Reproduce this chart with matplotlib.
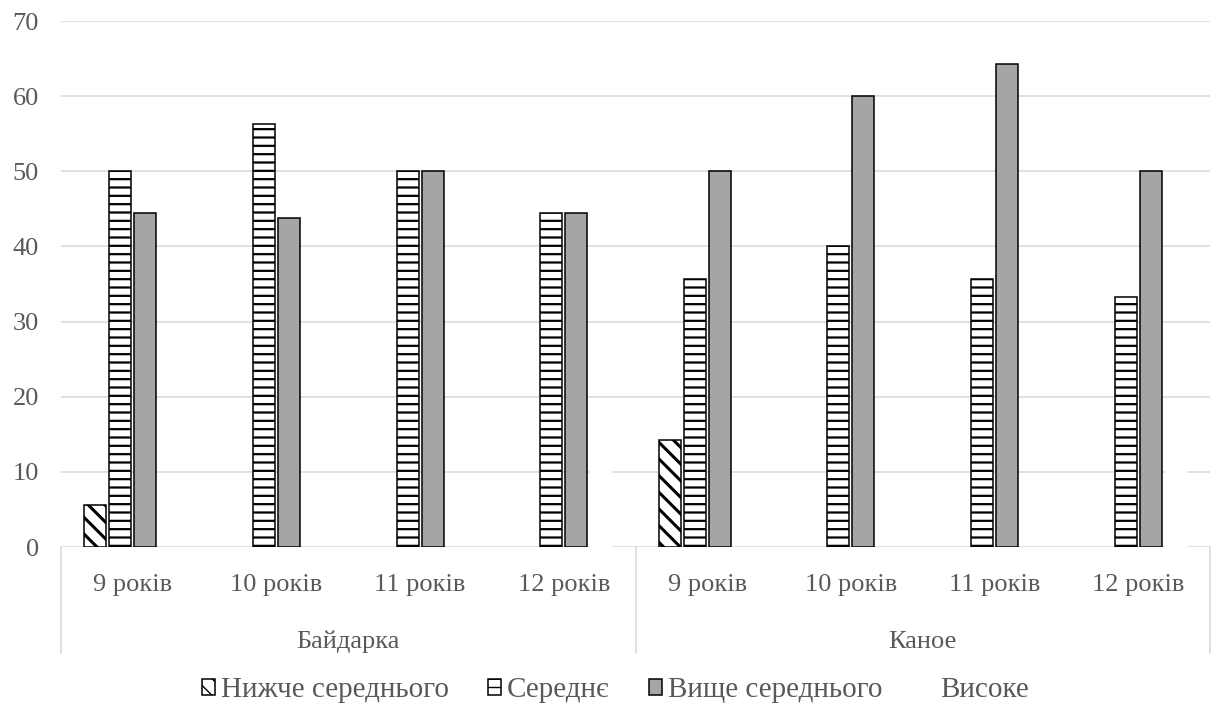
import matplotlib
matplotlib.use("Agg")
import matplotlib.pyplot as plt
import matplotlib.transforms as mtransforms
import numpy as np

# data
years = ["9 років", "10 років", "11 років", "12 років"] * 2
groups = ["Байдарка", "Каное"]
series_names = ["Нижче середнього", "Середнє", "Вище середнього", "Високе"]
below_avg = [5.6, 0, 0, 0, 14.3, 0, 0, 0]
average = [50, 56.25, 50, 44.4, 35.7, 40, 35.7, 33.3]
above_avg = [44.4, 43.75, 50, 44.4, 50, 60, 64.3, 50]
high = [0, 0, 0, 11.1, 0, 0, 0, 16.7]

plt.rcParams['font.family'] = ['Liberation Serif', 'DejaVu Serif']
text_color = "#595959"
grid_color = "#d9d9d9"
fsize = 19
leg_size = 21

fig = plt.figure(figsize=(12.13, 7.05), dpi=100)
ax = fig.add_axes([61 / 1213, 1 - 547 / 705, (1210 - 61) / 1213, (547 - 21) / 705])

x = np.arange(len(years))
slot = 0.174
width = 0.153

styles = [
    dict(facecolor="white", edgecolor="black", hatch="\\\\", hlw=2.2),
    dict(facecolor="white", edgecolor="black", hatch="--", hlw=1.6),
    dict(facecolor="#a5a5a5", edgecolor="black", hatch=None, hlw=1.0),
    dict(facecolor="white", edgecolor="none", hatch=None, hlw=1.0),
]
values = [below_avg, average, above_avg, high]

for i, (vals, st, name) in enumerate(zip(values, styles, series_names)):
    plt.rcParams['hatch.linewidth'] = st["hlw"]
    bars = ax.bar(x + (i - 1.5) * slot, vals, width, facecolor=st["facecolor"],
                  edgecolor=st["edgecolor"], hatch=st["hatch"], linewidth=1.1,
                  label=name, zorder=2)
    for b, v in zip(bars, vals):
        if hasattr(b, "set_hatch_linewidth"):
            b.set_hatch_linewidth(st["hlw"])
        if v == 0:
            b.set_visible(False)

ax.set_xlim(-0.5, 7.5)
ax.set_ylim(0, 70)
ax.set_yticks(range(0, 71, 10))
ax.yaxis.grid(True, color=grid_color, linewidth=1.1, zorder=0)
ax.set_axisbelow(True)
for s in ax.spines.values():
    s.set_visible(False)
ax.tick_params(axis="y", length=0, pad=16, labelsize=fsize, labelcolor=text_color)
ax.set_xticks([])

# category axis: year labels, group labels and separators
trans = mtransforms.blended_transform_factory(ax.transData, ax.transAxes)
for xi, lab in zip(x, years):
    ax.text(xi, -0.072, lab, transform=trans, ha="center", va="center",
            fontsize=fsize, color=text_color)
for gi, g in enumerate(groups):
    ax.text(gi * 4 + 1.5, -0.181, g, transform=trans, ha="center", va="center",
            fontsize=fsize, color=text_color)
for sx in [-0.5, 3.5, 7.5]:
    ax.plot([sx, sx], [0, -0.2015], transform=trans, color=grid_color,
            linewidth=1.1, clip_on=False)

leg = fig.legend(loc="center left", bbox_to_anchor=(0.1446, 0.021), ncol=4, frameon=False,
                 fontsize=leg_size, handlelength=0.45, handleheight=0.45,
                 handletextpad=0.2, columnspacing=1.35)
for t in leg.get_texts():
    t.set_color(text_color)

fig.savefig("out.png", dpi=100)
